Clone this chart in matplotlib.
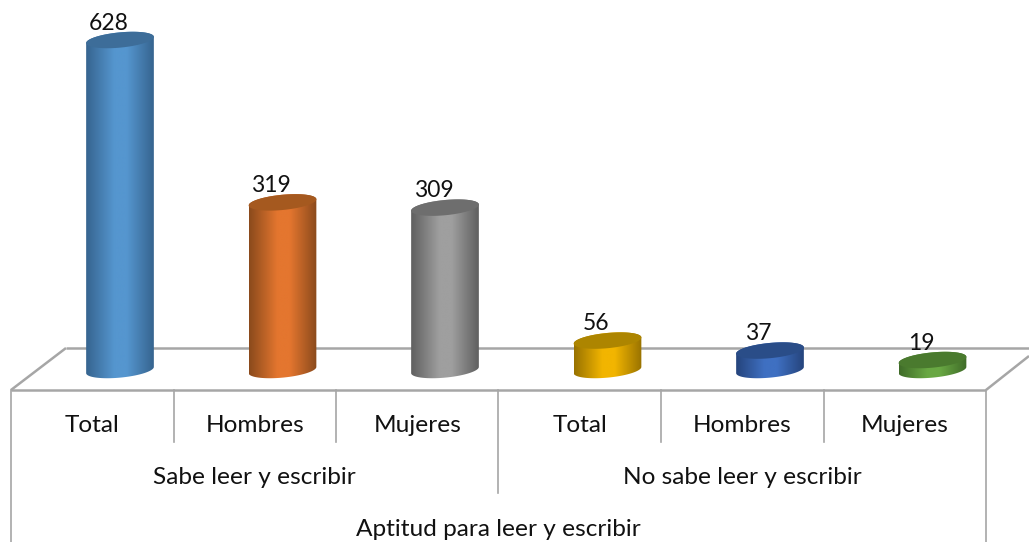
import matplotlib
matplotlib.use('Agg')
import matplotlib.pyplot as plt
import numpy as np
from matplotlib.colors import LinearSegmentedColormap
from matplotlib.patches import Polygon

plt.rcParams['font.family'] = ['Lato', 'DejaVu Sans']

categories = ['Total', 'Hombres', 'Mujeres', 'Total', 'Hombres', 'Mujeres']
groups = ['Sabe leer y escribir', 'No sabe leer y escribir']
axis_title = 'Aptitud para leer y escribir'
values = [628, 319, 309, 56, 37, 19]
# edge, centre, top of each cylinder
edge_colors = ['#36648f', '#8a4a1c', '#5f5f5f', '#987200', '#25447c', '#3f6b28']
mid_colors = ['#5596cf', '#e4762f', '#9f9f9f', '#f2b500', '#3f70c2', '#69a843']
top_colors = ['#3d6d99', '#a5591f', '#6e6e6e', '#ad8500', '#2a4d88', '#4a7a2e']

W, H = 1029, 542
PX_X = 162.5           # pixels per category
PX_Y = 330 / 628       # pixels per unit
X0, Y0 = 120, 370      # pixel position of first bar base
RX, RY = 34, 7.6       # ellipse half axes
TILT = np.radians(5.5)
FS = 17.6

fig = plt.figure(figsize=(W / 100, H / 100), dpi=100)

# pixel frame for floor and axis table
bg = fig.add_axes([0, 0, 1, 1])
bg.set_xlim(0, W)
bg.set_ylim(H, 0)
bg.axis('off')
line = dict(color='#a6a6a6', lw=1.8, solid_capstyle='butt')
bg.plot([66, W], [348, 348], **line)
bg.plot([11, 986], [390, 390], **line)
bg.plot([11, 66], [390, 348], **line)
bg.plot([986, W], [390, 356], **line)
lw = dict(color='#a6a6a6', lw=1.2)
bg.plot([11, 11], [390, H], **lw)
bg.plot([986, 986], [390, H], **lw)
bg.plot([498, 498], [390, 493], **lw)
for k in [1, 2, 4, 5]:
    xk = 11 + k * PX_X
    bg.plot([xk, xk], [390, 442], **lw)
for k, c in enumerate(categories):
    bg.text(11 + (k + 0.5) * PX_X, 426, c, ha='center', va='center', fontsize=FS, color='#111111')
for k, g in enumerate(groups):
    bg.text(11 + (3 * k + 1.5) * PX_X, 477, g, ha='center', va='center', fontsize=FS, color='#111111')
bg.text(498, 529.5, axis_title, ha='center', va='center', fontsize=FS, color='#111111')

# data axes: category index on x, value on y
ax = fig.add_axes([0, 0, 1, 1])
ax.patch.set_alpha(0)
ax.axis('off')


def ring(i, v, t):
    px = RX * np.cos(t) * np.cos(TILT) + RY * np.sin(t) * np.sin(TILT)
    py = RX * np.cos(t) * np.sin(TILT) - RY * np.sin(t) * np.cos(TILT)
    return np.column_stack([i + px / PX_X, v + py / PX_Y])


for i, v in enumerate(values):
    # body: upper half of top ellipse, then lower half of base ellipse
    upper = ring(i, v, np.linspace(0, -np.pi, 60))
    lower = ring(i, 0, np.linspace(np.pi, 0, 60))
    body = Polygon(np.vstack([upper, lower]), closed=True, fc='none', ec='none', transform=ax.transData)
    ax.add_patch(body)
    cmap = LinearSegmentedColormap.from_list('c', [(0, edge_colors[i]), (0.42, mid_colors[i]),
                                                   (0.6, mid_colors[i]), (1, edge_colors[i])])
    grad = np.linspace(0, 1, 256).reshape(1, -1)
    im = ax.imshow(grad, extent=(i - RX / PX_X, i + RX / PX_X, -40, v + 40), aspect='auto',
                   cmap=cmap, vmin=0, vmax=1, interpolation='bilinear')
    im.set_clip_path(body)
    top = Polygon(ring(i, v, np.linspace(0, 2 * np.pi, 120)), closed=True, fc=top_colors[i], ec='none')
    ax.add_patch(top)
    ax.text(i - 11.5 / PX_X, v + 17 / PX_Y, str(v), ha='center', va='center', fontsize=16.5, color='#111111')

ax.set_xlim(-X0 / PX_X, (W - X0) / PX_X)
ax.set_ylim((Y0 - H) / PX_Y, Y0 / PX_Y)

fig.savefig('out.png', dpi=100)
